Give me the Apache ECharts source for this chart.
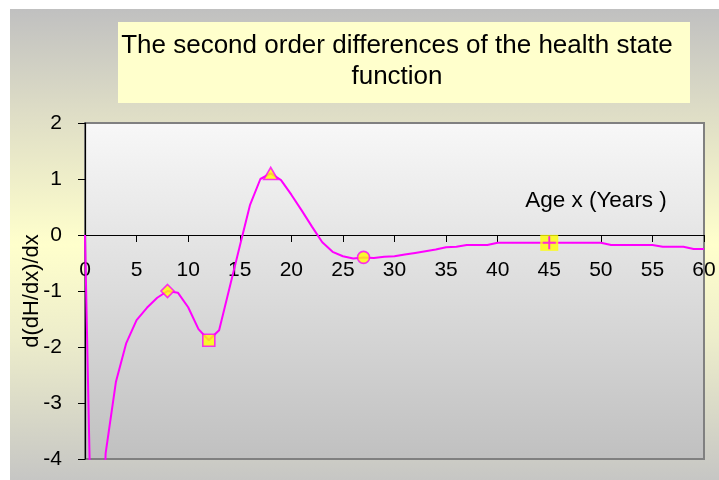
<!DOCTYPE html>
<html>
<head>
<meta charset="utf-8">
<script src="https://cdn.jsdelivr.net/npm/echarts@6/dist/echarts.min.js"></script>
<style>
html,body{margin:0;padding:0;background:#fff;}
#c{position:absolute;left:10px;top:9px;width:709px;height:471px;}
</style>
</head>
<body>
<div id="c"></div>
<script>
// Data
const ages = [0,1,2,3,4,5,6,7,8,9,10,11,12,13,14,15,16,17,18,19,20,21,22,23,24,25,26,27,28,29,30,31,32,33,34,35,36,37,38,39,40,41,42,43,44,45,46,47,48,49,50,51,52,53,54,55,56,57,58,59,60];
const secondDiff = [0,-9,-3.9,-2.62,-1.93,-1.52,-1.3,-1.12,-1.0,-1.03,-1.29,-1.68,-1.88,-1.7,-0.95,-0.2,0.54,1.0,1.1,0.98,0.72,0.44,0.15,-0.13,-0.3,-0.38,-0.42,-0.4,-0.41,-0.39,-0.38,-0.35,-0.32,-0.29,-0.26,-0.22,-0.21,-0.18,-0.18,-0.18,-0.14,-0.14,-0.14,-0.14,-0.14,-0.14,-0.14,-0.14,-0.14,-0.14,-0.14,-0.18,-0.18,-0.18,-0.18,-0.18,-0.21,-0.21,-0.21,-0.25,-0.25];
const markerAges = [8,12,18,27,45];
const xTicks = [0,5,10,15,20,25,30,35,40,45,50,55,60];
const yTicks = [-4,-3,-2,-1,0,1,2];
const titleText = 'The second order differences of the health state\nfunction';
const xName = 'Age x (Years )';
const yName = 'd(dH/dx)/dx';

const FONT = 'Liberation Sans, Arial, sans-serif';
const MAG = '#FF00FF';
const YEL = '#FFFF00';

const GRID_TOP = 114, GRID_BOTTOM = 21, CH = 471;
const plotH = CH - GRID_TOP - GRID_BOTTOM;
const yMin = yTicks[0], yMax = yTicks[yTicks.length-1];
const zeroOffset = -plotH * (0 - yMin) / (yMax - yMin);

const lineData = ages.map((a,i)=>[a, secondDiff[i]]);
const markerStyles = [
  {symbol:'diamond', symbolSize:[13,13]},
  {symbol:'rect', symbolSize:[12,12]},
  {symbol:'triangle', symbolSize:[14,12]},
  {symbol:'circle', symbolSize:[12,12]},
  {symbol:'rect', symbolSize:[18,16], border:0}
];
const markerData = markerAges.map((a,k)=>{
  const s = markerStyles[k];
  return {
    value:[a, secondDiff[ages.indexOf(a)]],
    symbol:s.symbol, symbolSize:s.symbolSize,
    itemStyle:{color:YEL, borderColor:MAG, borderWidth: s.border===0?0:1.6}
  };
});
const plusAge = markerAges[4];
const plusData = [[plusAge, secondDiff[ages.indexOf(plusAge)]]];

const chart = echarts.init(document.getElementById('c'), null, {renderer:'canvas'});
chart.setOption({
  animation:false,
  backgroundColor: new echarts.graphic.LinearGradient(0,0,0,1,[
    {offset:0,color:'#C0C0C0'},
    {offset:0.22,color:'#DEDDC6'},
    {offset:0.5,color:'#FFFFCC'},
    {offset:0.7,color:'#EDEDCB'},
    {offset:1,color:'#C6C6C4'}
  ]),
  title:{
    text:titleText,
    left:382, top:16, textAlign:'center', z:10,
    textStyle:{fontFamily:FONT, fontSize:26, fontWeight:'normal', color:'#000', lineHeight:31}
  },
  graphic:[
    {type:'rect', z:1, shape:{x:108,y:13,width:572,height:81}, style:{fill:'#FFFFCC'}},
    {type:'text', z:10, x:586, y:192, style:{text:xName, font:'22.5px '+FONT, fill:'#000', align:'center', verticalAlign:'middle'}}
  ],
  grid:{
    left:75, top:GRID_TOP, right:15, bottom:GRID_BOTTOM, show:true,
    containLabel:false, outerBoundsMode:'none',
    backgroundColor:new echarts.graphic.LinearGradient(0,0,0,1,[
      {offset:0,color:'#F8F8F8'},{offset:1,color:'#C0C0C0'}
    ]),
    borderColor:'#808080', borderWidth:2
  },
  xAxis:{
    type:'value', min:xTicks[0], max:xTicks[xTicks.length-1], interval:5,
    position:'bottom', offset:zeroOffset,
    axisLine:{onZero:false, lineStyle:{color:'#000', width:1.2}},
    axisTick:{show:true, length:7, lineStyle:{color:'#000'}},
    axisLabel:{fontFamily:FONT, fontSize:21, color:'#000', margin:25},
    splitLine:{show:false}
  },
  yAxis:{
    type:'value', min:yMin, max:yMax, interval:1,
    name:yName, nameLocation:'middle', nameRotate:90, nameGap:42, nameMoveOverlap:false,
    nameTextStyle:{fontFamily:FONT, fontSize:22, color:'#000'},
    axisLine:{show:true, onZero:false, lineStyle:{color:'#000', width:1.2}},
    axisTick:{show:true, length:7, lineStyle:{color:'#000'}},
    axisLabel:{fontFamily:FONT, fontSize:21, color:'#000', margin:23},
    splitLine:{show:false}
  },
  series:[
    {type:'line', data:lineData, showSymbol:false, clip:true, z:3,
     lineStyle:{color:MAG, width:2}},
    {type:'scatter', data:markerData, z:4, clip:false},
    {type:'scatter', data:plusData, z:5, clip:false,
     symbol:'path://M6,0L6,12M0,6L12,6', symbolSize:13,
     itemStyle:{color:'rgba(0,0,0,0)', borderColor:MAG, borderWidth:2}}
  ]
});
</script>
</body>
</html>
